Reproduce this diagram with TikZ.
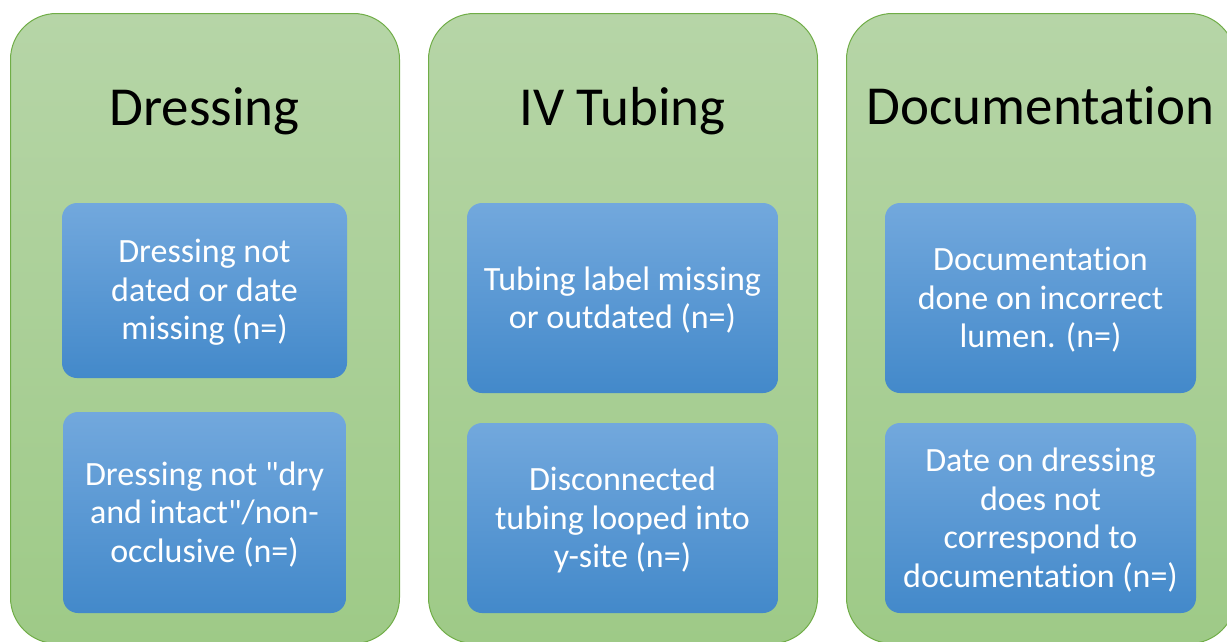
\documentclass[tikz,border=0pt]{standalone}
\usepackage{fontspec}
\defaultfontfeatures[\rmfamily,\sffamily]{}
\setmainfont{Carlito}[Ligatures=NoCommon, RawFeature={-calt}]
\definecolor{greentop}{RGB}{182,213,167}
\definecolor{greenbot}{RGB}{158,202,135}
\definecolor{panelborder}{RGB}{112,173,71}
\definecolor{bluetop}{RGB}{114,168,221}
\definecolor{bluebot}{RGB}{67,137,202}
\begin{document}
\begin{tikzpicture}[x=1pt,y=-1pt,
  panel/.style={draw=panelborder, line width=1pt, rounded corners=46pt,
    top color=greentop, bottom color=greenbot, minimum width=389pt,
    minimum height=630pt, anchor=north west, inner sep=0pt},
  item/.style={rounded corners=15pt, top color=bluetop, bottom color=bluebot,
    inner sep=0pt},
  itemtext/.style={text=white, font=\fontsize{34}{38.5}\selectfont,
    align=center, inner sep=0pt},
  title/.style={font=\fontsize{55}{60}\selectfont, anchor=base}]
\useasboundingbox (0,0) rectangle (1227,641);
\clip (0,0) rectangle (1227,641);
\node[panel] (p1) at (10,13) {};
\node[panel] (p2) at (428,13) {};
\node[panel] (p3) at (846,13) {};
\node[title] (t1) at (204.5,125) {Dressing};
\node[title] (t2) at (622.5,125) {IV Tubing};
\node[title] (t3) at (1040.5,124) {Documentation};
\node[item, minimum width=285pt, minimum height=175pt] (a1) at (204.5,290.5) {};
\node[item, minimum width=283pt, minimum height=201pt] (a2) at (204.5,512.5) {};
\node[item, minimum width=311pt, minimum height=190pt] (b1) at (622.5,298) {};
\node[item, minimum width=311pt, minimum height=190pt] (b2) at (622.5,518) {};
\node[item, minimum width=311pt, minimum height=190pt] (c1) at (1040.5,298) {};
\node[item, minimum width=311pt, minimum height=190pt] (c2) at (1040.5,518) {};
\node[itemtext] (a1t) at ([yshift=-2pt]a1.center) {Dressing not\\dated or date\\missing (n=)};
\node[itemtext] (a2t) at ([yshift=-2pt]a2.center) {Dressing not "dry\\and intact"/non-\\occlusive (n=)};
\node[itemtext] (b1t) at ([yshift=-2pt]b1.center) {Tubing label missing\\or outdated (n=)};
\node[itemtext] (b2t) at ([yshift=-2pt]b2.center) {Disconnected\\tubing looped into\\y-site (n=)};
\node[itemtext] (c1t) at ([yshift=-2pt]c1.center) {Documentation\\done on incorrect\\lumen. (n=)};
\node[itemtext] (c2t) at ([yshift=-2pt]c2.center) {Date on dressing\\does not\\correspond to\\documentation (n=)};
\end{tikzpicture}
\end{document}
